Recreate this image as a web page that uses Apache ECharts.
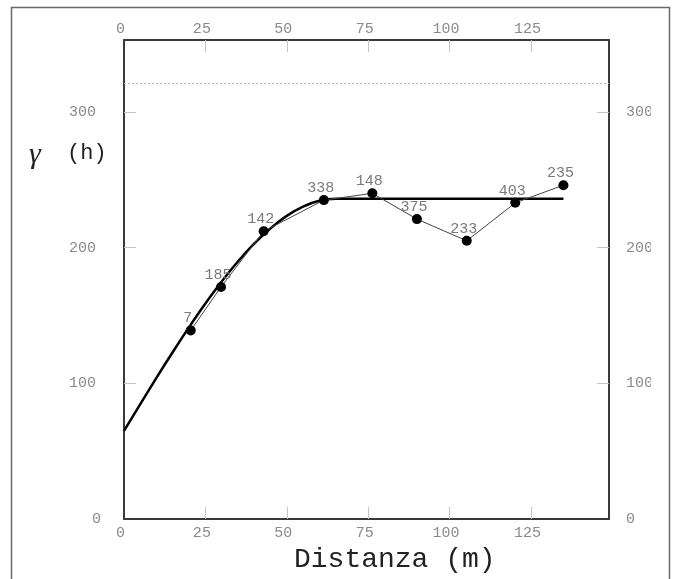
<!DOCTYPE html>
<html>
<head>
<meta charset="utf-8">
<script src="https://cdn.jsdelivr.net/npm/echarts@6/dist/echarts.min.js"></script>
<style>
  html, body { margin: 0; padding: 0; background: #fff; }
  #chart { width: 673px; height: 579px; }
</style>
</head>
<body>
<div id="chart"></div>
<script>
// Experimental semivariogram: lag distance (m), semivariance, pair counts
const lagDistance = [20.5, 29.8, 42.9, 61.4, 76.3, 90.0, 105.3, 120.2, 135.0];
const semivariance = [139, 171, 212, 235, 240, 221, 205, 233, 246];
const pairCounts = [7, 185, 142, 338, 148, 375, 233, 403, 235];

// Fitted spherical model
const modelDistance = [0, 5, 10, 15, 20, 25, 30, 35, 40, 45, 50, 55, 60, 65, 135];
const modelValue = [65, 84.7, 104.2, 123.1, 141.4, 158.8, 175.0, 189.8, 202.9, 214.2, 223.4, 230.2, 234.5, 236, 236];

// Sample variance reference level
const sampleVariance = 321;

// Axis ranges, tick marks and tick labels
const xMax = 149;
const yMax = 353;
const xTickLabels = [0, 25, 50, 75, 100, 125];
const xTickMarks = [25, 50, 75, 100, 125];
const yTickLabels = [0, 100, 200, 300];
const yTickMarks = [100, 200, 300];

const mono = '"Liberation Mono", "DejaVu Sans Mono", monospace';
const axisColor = '#3a3a3a';
const tickColor = '#c4c4c4';
const labelColor = '#8a8a8a';

const chart = echarts.init(document.getElementById('chart'), null, { renderer: 'canvas' });

const xAxisBase = {
  type: 'value', min: 0, max: xMax, interval: 25,
  axisLine: { show: true, onZero: false, lineStyle: { color: axisColor, width: 2 } },
  axisTick: { show: true, inside: true, length: 12, customValues: xTickMarks,
    lineStyle: { color: tickColor, width: 1 } },
  splitLine: { show: false },
  axisLabel: { customValues: xTickLabels, color: labelColor, fontFamily: mono, fontSize: 15,
    padding: [0, 7, 0, 0] }
};
const yAxisBase = {
  type: 'value', min: 0, max: yMax, interval: 100,
  axisLine: { show: true, onZero: false, lineStyle: { color: axisColor, width: 2 } },
  axisTick: { show: true, inside: true, length: 12, customValues: yTickMarks,
    lineStyle: { color: tickColor, width: 1 } },
  splitLine: { show: false },
  axisLabel: { customValues: yTickLabels, color: labelColor, fontFamily: mono, fontSize: 15 }
};

chart.setOption({
  animation: false,
  backgroundColor: '#fff',
  grid: { left: 124, right: 64, top: 40, bottom: 60, containLabel: false },
  xAxis: [
    Object.assign({}, xAxisBase, { position: 'bottom',
      axisLabel: Object.assign({}, xAxisBase.axisLabel, { margin: 7 }) }),
    Object.assign({}, xAxisBase, { position: 'top',
      axisLabel: Object.assign({}, xAxisBase.axisLabel, { margin: 3 }) })
  ],
  yAxis: [
    Object.assign({}, yAxisBase, { position: 'left',
      axisLabel: Object.assign({}, yAxisBase.axisLabel, {
        margin: 23,
        formatter: v => (v === 0 ? '0' : '{p|' + v + '}'),
        rich: { p: { color: labelColor, fontFamily: mono, fontSize: 15, padding: [0, 5, 0, 0] } }
      }) }),
    Object.assign({}, yAxisBase, { position: 'right',
      axisLabel: Object.assign({}, yAxisBase.axisLabel, { margin: 17 }) })
  ],
  series: [
    {
      name: 'model',
      type: 'line',
      xAxisIndex: 0, yAxisIndex: 0,
      data: modelDistance.map((d, i) => [d, modelValue[i]]),
      smooth: 0.35,
      showSymbol: false,
      lineStyle: { color: '#000', width: 2.5 },
      z: 2,
      markLine: {
        silent: true,
        symbol: 'none',
        label: { show: false },
        lineStyle: { color: '#b0b0b0', type: [2, 2], width: 1 },
        data: [{ yAxis: sampleVariance }]
      }
    },
    {
      name: 'experimental',
      type: 'line',
      xAxisIndex: 0, yAxisIndex: 0,
      data: lagDistance.map((d, i) => [d, semivariance[i], pairCounts[i]]),
      symbol: 'circle',
      symbolSize: 10,
      itemStyle: { color: '#000' },
      lineStyle: { color: '#444', width: 1 },
      z: 3,
      label: {
        show: true,
        position: 'inside',
        offset: [-3, -12],
        formatter: p => String(p.value[2]),
        color: '#7a7a7a',
        fontFamily: mono,
        fontSize: 15
      }
    }
  ],
  graphic: [
    // outer frame
    { type: 'rect', shape: { x: 11.5, y: 7.5, width: 658, height: 620 },
      style: { fill: 'none', stroke: '#6a6a6a', lineWidth: 1.5 }, silent: true, z: 10 },
    // right edge of the canvas cuts the last digit of the right-hand labels
    { type: 'rect', shape: { x: 651, y: 60, width: 16, height: 480 },
      style: { fill: '#fff' }, silent: true, z: 11 },
    // y-axis title
    { type: 'text', x: 29, y: 140,
      style: { text: 'γ', font: 'italic 30px "Liberation Serif", "DejaVu Serif", serif', fill: '#222' }, z: 12 },
    { type: 'text', x: 67, y: 142,
      style: { text: '(h)', font: '22px ' + mono, fill: '#222' }, z: 12 },
    // x-axis title
    { type: 'text', x: 294, y: 546,
      style: { text: 'Distanza (m)', font: '28px ' + mono, fill: '#222' }, z: 12 }
  ]
});
</script>
</body>
</html>
